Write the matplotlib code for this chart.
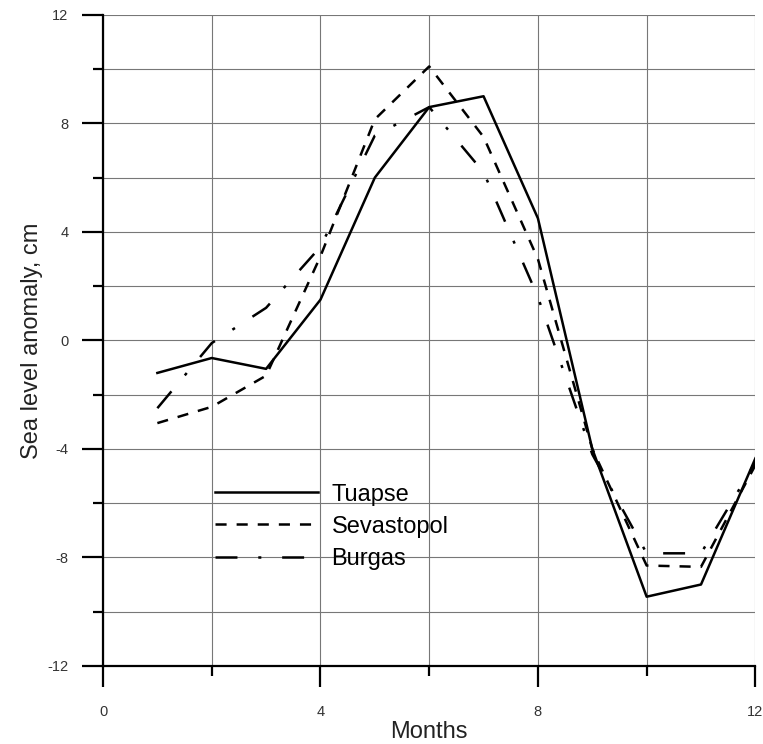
import matplotlib
matplotlib.use('Agg')
import matplotlib.pyplot as plt
from matplotlib.ticker import MultipleLocator

# sea level anomaly, seasonal cycle (cm)
months = [1, 2, 3, 4, 5, 6, 7, 8, 9, 10, 11, 12]
tuapse = [-1.2, -0.65, -1.05, 1.5, 6.0, 8.6, 9.0, 4.5, -4.0, -9.45, -9.0, -4.35]
sevastopol = [-3.05, -2.45, -1.3, 3.1, 8.15, 10.1, 7.5, 3.0, -4.0, -8.3, -8.35, -4.6]
burgas = [-2.5, -0.1, 1.2, 3.45, 7.55, 8.6, 6.2, 1.6, -4.2, -7.85, -7.85, -4.5]

plt.rcParams['font.family'] = ['Liberation Sans', 'DejaVu Sans']
plt.rcParams['lines.scale_dashes'] = False
plt.rcParams['axes.unicode_minus'] = False

fig = plt.figure(figsize=(7.63, 7.44), dpi=100)
ax = fig.add_axes([0.135, 0.105, 0.855, 0.875])

lw = 1.8
ax.plot(months, tuapse, color='black', lw=lw, ls='-', label='Tuapse')
ax.plot(months, sevastopol, color='black', lw=lw, ls=(0, (8.0, 7.2)), label='Sevastopol')
ax.plot(months, burgas, color='black', lw=lw, ls=(0, (15.8, 15.0, 2.2, 15.0)), label='Burgas')

ax.set_xlim(0, 12)
ax.set_ylim(-12, 12)
ax.xaxis.set_major_locator(MultipleLocator(4))
ax.xaxis.set_minor_locator(MultipleLocator(2))
ax.yaxis.set_major_locator(MultipleLocator(4))
ax.yaxis.set_minor_locator(MultipleLocator(2))

# grid every 2 units, thin gray
ax.grid(True, which='both', color='#777777', lw=0.8)
ax.set_axisbelow(True)

for s in ['top', 'right']:
    ax.spines[s].set_visible(False)
for s in ['left', 'bottom']:
    ax.spines[s].set_linewidth(1.6)

ax.tick_params(which='major', length=15, width=1.6, direction='out', labelsize=10.5,
               labelcolor='#333333', pad=10)
ax.tick_params(which='minor', length=7.5, width=1.6, direction='out')
ax.tick_params(axis='x', which='major', pad=13)

ax.set_xlabel('Months', fontsize=17, color='#222222', labelpad=1.5)
ax.set_ylabel('Sea level anomaly, cm', fontsize=17, color='#222222', labelpad=3)

leg = ax.legend(loc='upper left', bbox_to_anchor=(0.1716, 0.280), frameon=False,
                fontsize=17, handlelength=4.36, handletextpad=0.58,
                labelspacing=0.43, borderaxespad=0, borderpad=0)

fig.savefig('out.png', dpi=100)
